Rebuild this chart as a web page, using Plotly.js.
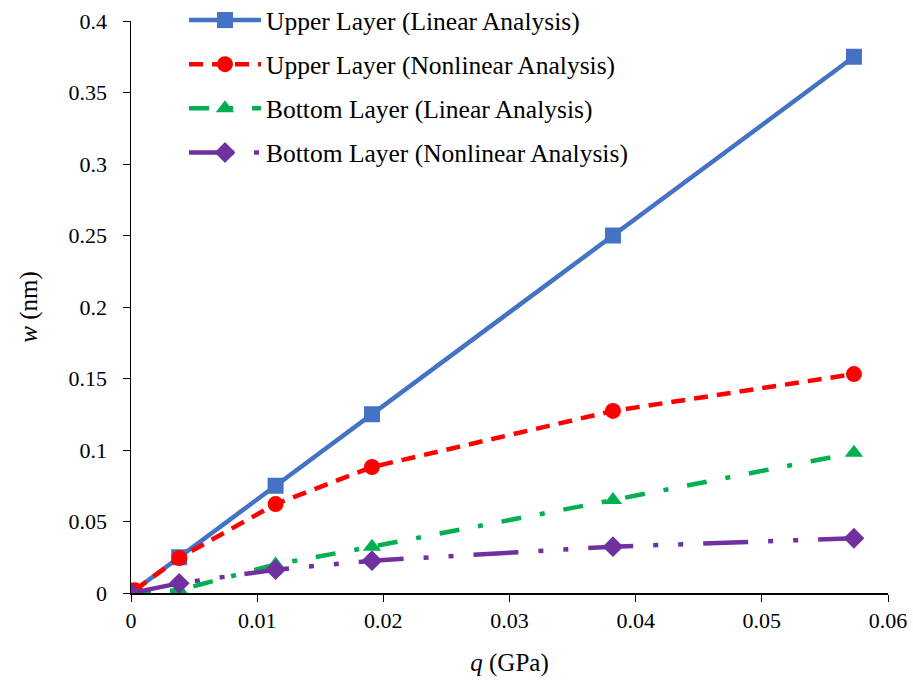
<!DOCTYPE html>
<html>
<head>
<meta charset="utf-8">
<script src="https://cdn.plot.ly/plotly-3.0.1.min.js"></script>
<style>html,body{margin:0;padding:0;background:#fff;}#chart{width:913px;height:686px;}</style>
</head>
<body>
<div id="chart"></div>
<script>
// q (GPa)
const qValues = [0, 0.00382, 0.01146, 0.0191, 0.0382, 0.0573];
const qValuesUpperNonlinear = [0.0003, 0.00382, 0.01146, 0.0191, 0.0382, 0.0573];
// w (nm)
const upperLinear = [0, 0.025, 0.075, 0.125, 0.25, 0.375];
const upperNonlinear = [0.002, 0.0245, 0.0622, 0.0881, 0.1273, 0.1531];
const bottomLinear = [0, 0.002, 0.02, 0.0324, 0.065, 0.098];
const bottomNonlinear = [0, 0.0068, 0.0163, 0.0226, 0.0324, 0.0383];
const seriesNames = [
  "Upper Layer (Linear Analysis)",
  "Upper Layer (Nonlinear Analysis)",
  "Bottom Layer (Linear Analysis)",
  "Bottom Layer (Nonlinear Analysis)"
];
const xTicks = [0, 0.01, 0.02, 0.03, 0.04, 0.05, 0.06];
const xTickLabels = ["0", "0.01", "0.02", "0.03", "0.04", "0.05", "0.06"];
const yTicks = [0, 0.05, 0.1, 0.15, 0.2, 0.25, 0.3, 0.35, 0.4];
const yTickLabels = ["0", "0.05", "0.1", "0.15", "0.2", "0.25", "0.3", "0.35", "0.4"];

const FONT = "Liberation Serif, Times New Roman, serif";

const traces = [
  {x: qValues, y: upperLinear, name: seriesNames[0], legendgroup: "a",
   mode: "lines+markers", line: {color: "#4472C4", width: 4.5},
   marker: {symbol: "square", size: 16, color: "#4472C4"}},
  {x: qValuesUpperNonlinear, y: upperNonlinear, name: seriesNames[1], legendgroup: "b",
   mode: "lines+markers", line: {color: "#FF0000", width: 4.5, dash: "14px,9px"},
   marker: {symbol: "circle", size: 16, color: "#FF0000"}},
  {x: qValues, y: bottomLinear, name: seriesNames[2], legendgroup: "c",
   mode: "lines+markers", line: {color: "#00B050", width: 4.5, dash: "20px,19px,5px,19px"},
   marker: {symbol: "triangle-up", size: 16, color: "#00B050"}},
  {x: qValues, y: bottomNonlinear, name: seriesNames[3], legendgroup: "d",
   mode: "lines+markers", line: {color: "#7030A0", width: 4.5, dash: "45px,20px,5px,20px,5px,20px"},
   marker: {symbol: "diamond", size: 16, color: "#7030A0"}}
];

const layout = {
  width: 913, height: 686,
  margin: {l: 131, r: 25, t: 21, b: 93, autoexpand: false},
  paper_bgcolor: "#fff", plot_bgcolor: "#fff",
  font: {family: FONT, size: 20, color: "#000"},
  showlegend: true,
  legend: {x: 0.07, y: 1.042, xanchor: "left", yanchor: "top",
           bgcolor: "rgba(0,0,0,0)", font: {family: FONT, size: 25.5, color: "#000"},
           itemwidth: 72, traceorder: "grouped", tracegroupgap: 8},
  xaxis: {range: [0, 0.06], tickvals: xTicks, ticktext: xTickLabels,
          showgrid: false, zeroline: false, showline: true, linecolor: "#000", linewidth: 1.5,
          ticks: "outside", ticklen: 7, tickcolor: "#000", ticklabelstandoff: 0,
          tickfont: {family: FONT, size: 22, color: "#000"},
          title: {text: "<i>q</i> (GPa)", font: {family: FONT, size: 25, color: "#000"}, standoff: 21}},
  yaxis: {range: [0, 0.4], tickvals: yTicks, ticktext: yTickLabels,
          showgrid: false, zeroline: false, showline: true, linecolor: "#000", linewidth: 1.5,
          ticks: "outside", ticklen: 7, tickcolor: "#000", ticklabelstandoff: 11,
          tickfont: {family: FONT, size: 22, color: "#000"},
          title: {text: "<i>w</i> (nm)", font: {family: FONT, size: 25, color: "#000"}, standoff: 24}}
};

Plotly.newPlot("chart", traces, layout, {displayModeBar: false, staticPlot: true});
</script>
</body>
</html>
